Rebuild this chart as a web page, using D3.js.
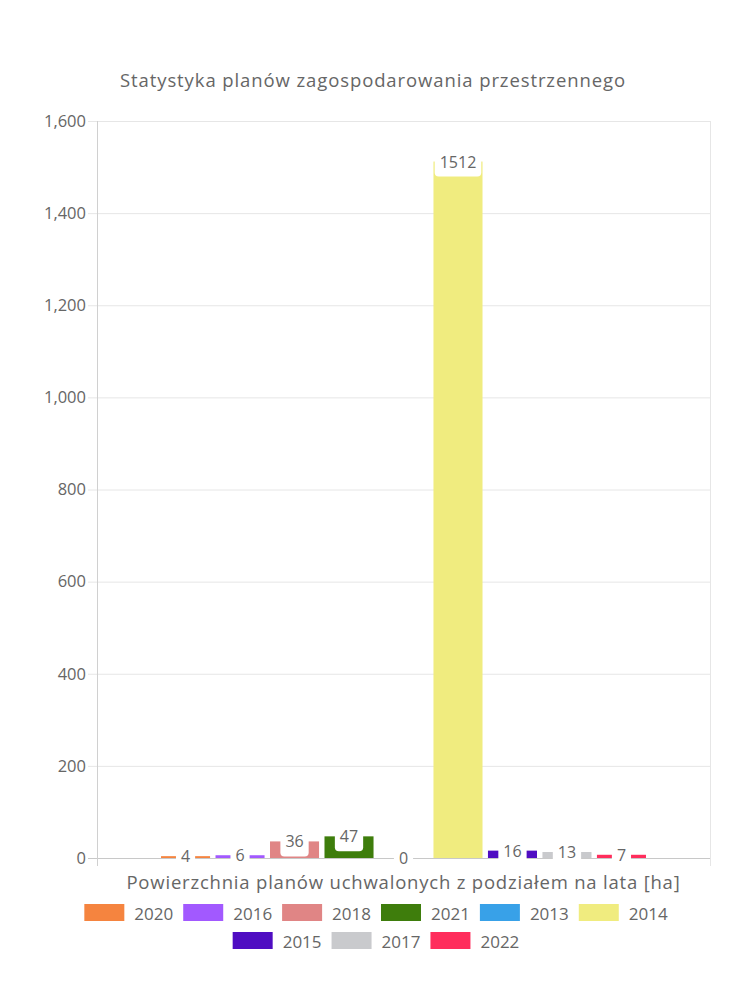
<!DOCTYPE html>
<html>
<head>
<meta charset="utf-8">
<script src="https://cdn.jsdelivr.net/npm/d3@7"></script>
<style>
  html, body { margin: 0; padding: 0; background: #fff; }
  svg text { font-family: "Open Sans", "Noto Sans", sans-serif; fill: #666; }
</style>
</head>
<body>
<svg id="chart" width="750" height="1000"></svg>
<script>
const chartTitle = "Statystyka planów zagospodarowania przestrzennego";
const axisTitle = "Powierzchnia planów uchwalonych z podziałem na lata [ha]";
const categories = [""];
const years = ["2020", "2016", "2018", "2021", "2013", "2014", "2015", "2017", "2022"];
const values = [4, 6, 36, 47, 0, 1512, 16, 13, 7];
const colors = ["#f5843f", "#a259ff", "#e08585", "#3e7d0c", "#38a1e8", "#f0ec7f", "#4f0dc2", "#c9cacd", "#ff2d5c"];
const yTicks = [0, 200, 400, 600, 800, 1000, 1200, 1400, 1600];

const svg = d3.select("#chart");
const L = 97, R = 710, T = 121, B = 858;

const y = d3.scaleLinear().domain([0, 1600]).range([B, T]);
const x0 = d3.scaleBand().domain(categories).range([L, R]).paddingInner(0).paddingOuter(0.125);
const x1 = d3.scaleBand().domain(years).range([0, x0.bandwidth()]).paddingInner(0.1).paddingOuter(0.05);

// title
svg.append("text").attr("x", 373).attr("y", 79).attr("text-anchor", "middle")
  .attr("dominant-baseline", "central").style("font-size", "18.5px").style("letter-spacing", "0.9px")
  .text(chartTitle);

// grid
const grid = svg.append("g");
grid.selectAll("line.h").data(yTicks).join("line")
  .attr("x1", L - 9).attr("x2", R)
  .attr("y1", d => y(d) + 0.5).attr("y2", d => y(d) + 0.5)
  .attr("stroke", d => d === 0 ? "#c8c8c8" : "#e6e6e6").attr("stroke-width", 1);
grid.append("line").attr("x1", L + 0.5).attr("x2", L + 0.5).attr("y1", T).attr("y2", B + 8)
  .attr("stroke", "#d0d0d0");
grid.append("line").attr("x1", R + 0.5).attr("x2", R + 0.5).attr("y1", T).attr("y2", B + 8)
  .attr("stroke", "#e6e6e6");

// y axis labels
const yAxis = d3.axisLeft(y).tickValues(yTicks).tickFormat(d3.format(",")).tickSize(0).tickPadding(11);
const gy = svg.append("g").attr("transform", `translate(${L},0)`).call(yAxis);
gy.select(".domain").remove();
gy.selectAll("text").style("font-size", "16.5px").style("fill", "#666")
  .style("font-family", '"Open Sans", sans-serif');

// bars
const data = years.map((yr, i) => ({ yr, v: values[i], c: colors[i] }));
const gb = svg.append("g").attr("transform", `translate(${x0("")},0)`);
gb.selectAll("rect").data(data).join("rect")
  .attr("x", d => x1(d.yr)).attr("width", x1.bandwidth())
  .attr("y", d => y(d.v)).attr("height", d => y(0) - y(d.v))
  .attr("fill", d => d.c);

// data labels
const gl = gb.selectAll("g.lbl").data(data).join("g").attr("class", "lbl")
  .attr("transform", d => `translate(${x1(d.yr) + x1.bandwidth() / 2},${y(d.v)})`);
gl.each(function (d) {
  const g = d3.select(this);
  const rect = g.append("rect").attr("fill", "#fff").attr("rx", 4);
  const t = g.append("text").attr("text-anchor", "middle").attr("dominant-baseline", "central")
    .attr("y", 0).style("font-size", "16px").text(d.v);
  const w = t.node().getComputedTextLength() + 10;
  rect.attr("x", -w / 2).attr("y", -15).attr("width", w).attr("height", 30);
});

// x axis title
svg.append("text").attr("x", (L + R) / 2).attr("y", 881).attr("text-anchor", "middle")
  .attr("dominant-baseline", "central").style("font-size", "18.5px").style("letter-spacing", "0.8px")
  .text(axisTitle);

// legend
const rows = [years.slice(0, 6), years.slice(6)];
const lg = svg.append("g");
rows.forEach((row, ri) => {
  const cy = 912.5 + ri * 28;
  const items = row.map(yr => {
    const tmp = lg.append("text").style("font-size", "17px").text(yr);
    const tw = tmp.node().getComputedTextLength();
    tmp.remove();
    return { yr, tw, w: 40 + 10 + tw + 10 };
  });
  const total = d3.sum(items, d => d.w);
  let cx = 381 - total / 2;
  items.forEach(it => {
    const i = years.indexOf(it.yr);
    lg.append("rect").attr("x", cx).attr("y", cy - 8.5).attr("width", 40).attr("height", 17)
      .attr("fill", colors[i]);
    lg.append("text").attr("x", cx + 50).attr("y", cy + 1).attr("dominant-baseline", "central")
      .style("font-size", "17px").text(it.yr);
    cx += it.w;
  });
});
</script>
</body>
</html>
